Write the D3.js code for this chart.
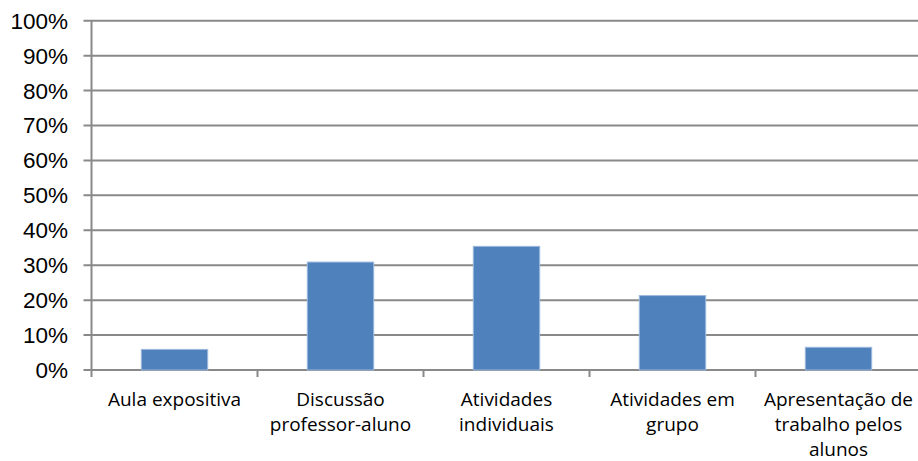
<!DOCTYPE html>
<html>
<head>
<meta charset="utf-8">
<script src="https://cdn.jsdelivr.net/npm/d3@7"></script>
<style>
  body { margin: 0; background: #fff; }
</style>
</head>
<body>
<script>
const categories = [
  ['Aula expositiva'],
  ['Discussão', 'professor-aluno'],
  ['Atividades', 'individuais'],
  ['Atividades em', 'grupo'],
  ['Apresentação de', 'trabalho pelos', 'alunos']
]
const values = [5.9, 30.9, 35.4, 21.3, 6.5]
const yTicks = [0, 10, 20, 30, 40, 50, 60, 70, 80, 90, 100]

const W = 918, H = 461
const mLeft = 91.5, mRight = 921.5, mTop = 20.7, mBottom = 370

const svg = d3.select('body')
  .append('svg')
  .attr('width', W)
  .attr('height', H)

const x = d3.scaleBand()
  .domain(d3.range(categories.length))
  .range([mLeft, mRight])
  .paddingInner(0.6)
  .paddingOuter(0.3)

const xTick = d3.scaleBand()
  .domain(d3.range(categories.length))
  .range([mLeft, mRight])

const y = d3.scaleLinear()
  .domain([0, 100])
  .range([mBottom, mTop])

const grid = '#898989'

// gridlines
svg.append('g')
  .selectAll('line')
  .data(yTicks)
  .enter()
  .append('line')
  .attr('x1', mLeft - 8)
  .attr('x2', W)
  .attr('y1', d => y(d))
  .attr('y2', d => y(d))
  .attr('stroke', grid)
  .attr('stroke-width', 2)

// y labels
svg.append('g')
  .selectAll('text')
  .data(yTicks)
  .enter()
  .append('text')
  .attr('x', 68)
  .attr('y', d => y(d) + 8)
  .attr('text-anchor', 'end')
  .attr('style', 'font-family:"Liberation Sans",Arial,sans-serif;font-size:22.5px;fill:#000')
  .text(d => d + '%')

// bars
svg.append('g')
  .selectAll('rect')
  .data(values)
  .enter()
  .append('rect')
  .attr('x', (d, i) => x(i))
  .attr('width', x.bandwidth())
  .attr('y', d => y(d))
  .attr('height', d => y(0) - y(d))
  .attr('fill', '#4f81bd')
  .attr('stroke', '#9db8db')
  .attr('stroke-width', 1)

// axes
svg.append('line')
  .attr('x1', mLeft).attr('x2', mLeft)
  .attr('y1', mTop).attr('y2', mBottom + 7)
  .attr('stroke', grid).attr('stroke-width', 2)

svg.append('g')
  .selectAll('line')
  .data(d3.range(1, categories.length + 1))
  .enter()
  .append('line')
  .attr('x1', d => mLeft + d * xTick.step())
  .attr('x2', d => mLeft + d * xTick.step())
  .attr('y1', mBottom)
  .attr('y2', mBottom + 7)
  .attr('stroke', grid).attr('stroke-width', 2)

// category labels
const lab = svg.append('g')
  .selectAll('text')
  .data(categories)
  .enter()
  .append('text')
  .attr('text-anchor', 'middle')
  .attr('style', 'font-family:"Open Sans",sans-serif;font-size:19px;fill:#000')

lab.selectAll('tspan')
  .data((d, i) => d.map((t, k) => ({ t, k, i })))
  .enter()
  .append('tspan')
  .attr('x', d => x(d.i) + x.bandwidth() / 2)
  .attr('y', d => 406 + d.k * 25)
  .text(d => d.t)
</script>
</body>
</html>
